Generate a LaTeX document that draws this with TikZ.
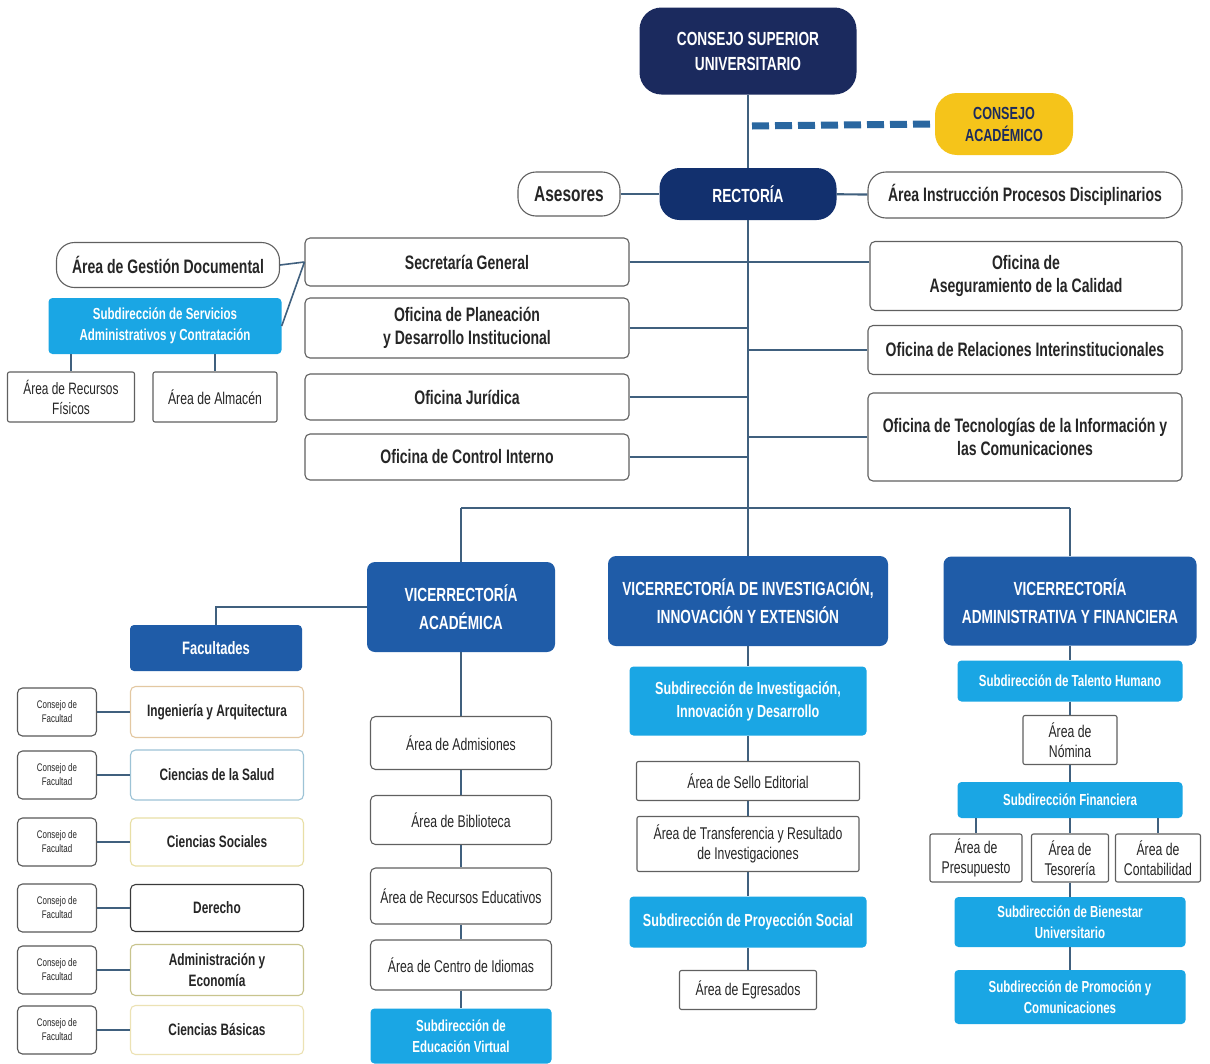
\documentclass[tikz,border=0pt]{standalone}
\usepackage{fontspec}
\setmainfont{Liberation Sans}[FakeStretch=0.72]
\definecolor{navy}{HTML}{1B2A5E}
\definecolor{rnavy}{HTML}{12306E}
\definecolor{vblue}{HTML}{1F5CA8}
\definecolor{lblue}{HTML}{1AA6E4}
\definecolor{gold}{HTML}{F5C41A}
\definecolor{ln}{HTML}{40607E}
\definecolor{dashc}{HTML}{2A67A0}
\definecolor{txt}{HTML}{262626}
\definecolor{fa}{HTML}{E3C8A2}
\definecolor{fb}{HTML}{9DC3D6}
\definecolor{fc}{HTML}{E8DFA6}
\definecolor{fd}{HTML}{3A3A3A}
\definecolor{fe}{HTML}{C8C48E}
\definecolor{ff}{HTML}{ECE2B4}
\begin{document}
\begin{tikzpicture}[x=1pt,y=-1pt,
  box/.style={draw=gray!75!black, line width=1.1pt, rounded corners=5pt, fill=white, align=center, inner sep=0pt, text=txt, font=\bfseries\fontsize{19.5}{23}\selectfont},
  area/.style={box, font=\fontsize{17}{20}\selectfont},
  pill/.style={box, rounded corners=18pt},
  navybox/.style={fill=navy, draw=none, rounded corners=22pt, text=white, inner sep=0pt, font=\bfseries\fontsize{19}{25}\selectfont, align=center},
  vbox/.style={fill=vblue, draw=none, rounded corners=8pt, text=white, inner sep=0pt, font=\bfseries\fontsize{19}{28}\selectfont, align=center},
  sub/.style={fill=lblue, draw=none, rounded corners=4pt, text=white, inner sep=0pt, font=\bfseries\fontsize{17.5}{23}\selectfont, align=center},
  subs/.style={sub, font=\bfseries\fontsize{16}{21}\selectfont},
  fbox/.style={box, draw=#1, font=\bfseries\fontsize{16.5}{21}\selectfont, minimum width=173},
  cbox/.style={box, draw=gray!70!black, font=\fontsize{11}{14}\selectfont, minimum width=79, minimum height=48},
  conn/.style={draw=ln, line width=2.2pt}]
\useasboundingbox[fill=white] (0,0) rectangle (1210,1063);

% top
\node[navybox, minimum width=217, minimum height=87] (csu) at (748,51) {CONSEJO SUPERIOR\\UNIVERSITARIO};
\node[fill=gold, rounded corners=22pt, inner sep=0pt, minimum width=138, minimum height=62, align=center, text=navy, font=\bfseries\fontsize{17.5}{22}\selectfont] (ca) at (1004,124) {CONSEJO\\ACADÉMICO};
\node[navybox, fill=rnavy, rounded corners=20pt, minimum width=177, minimum height=52] (rect) at (748,194) {RECTORÍA};
\node[pill, minimum width=102, minimum height=44, font=\bfseries\fontsize{21.5}{25}\selectfont] (ase) at (569,194) {Asesores};
\node[pill, minimum width=314, minimum height=46] (aipd) at (1025,195) {Área Instrucción Procesos Disciplinarios};

% left offices
\node[box, minimum width=324, minimum height=48] (sg) at (467,262) {Secretaría General};
\node[box, minimum width=324, minimum height=60] (opdi) at (467,328) {Oficina de Planeación\\y Desarrollo Institucional};
\node[box, minimum width=324, minimum height=46] (oj) at (467,397) {Oficina Jurídica};
\node[box, minimum width=324, minimum height=46] (oci) at (467,457) {Oficina de Control Interno};
% right offices
\node[box, minimum width=312, minimum height=69] (oac) at (1026,276) {Oficina de\\Aseguramiento de la Calidad};
\node[box, minimum width=314, minimum height=49] (ori) at (1025,350) {Oficina de Relaciones Interinstitucionales};
\node[box, minimum width=314, minimum height=88] (otic) at (1025,437) {Oficina de Tecnologías de la Información y\\las Comunicaciones};
% far left
\node[pill, minimum width=223, minimum height=45] (agd) at (168,265) {Área de Gestión Documental};
\node[subs, minimum width=233, minimum height=56] (ssac) at (165,326) {Subdirección de Servicios\\Administrativos y Contratación};
\node[area, rounded corners=2pt, minimum width=127, minimum height=50, font=\fontsize{16.5}{20}\selectfont] (arf) at (71,397) {Área de Recursos\\Físicos};
\node[area, rounded corners=2pt, minimum width=124, minimum height=50] (aal) at (215,397) {Área de Almacén};

% connectors top
\draw[conn] (csu) -- (rect);
\coordinate (busc) at (748,508);
\draw[conn] (rect) -- (busc);
\coordinate (dstart) at (752,126);
\draw[draw=dashc, line width=7pt, dash pattern=on 17pt off 6pt] (dstart) -- (ca.west);
\draw[conn] (ase) -- (rect);
\draw[conn] (rect) -- (aipd);
\draw[conn] (sg.east) -- (sg.east -| oac.west);
\draw[conn] (opdi.east) -- (opdi.east -| rect.south);
\draw[conn] (oj.east) -- (oj.east -| rect.south);
\draw[conn] (oci.east) -- (oci.east -| rect.south);
\draw[conn] (ori.west) -- (ori.west -| rect.south);
\draw[conn] (otic.west) -- (otic.west -| rect.south);
\draw[conn, line width=1.6pt] (agd.east) -- (sg.west);
\draw[conn, line width=1.6pt] (ssac.east) -- (sg.west);
\draw[conn, line width=1.6pt] (ssac.south -| arf.north) -- (arf.north);
\draw[conn, line width=1.6pt] (ssac.south -| aal.north) -- (aal.north);

% vicerrectorias
\node[vbox, minimum width=188, minimum height=90] (va) at (461,607) {VICERRECTORÍA\\ACADÉMICA};
\node[vbox, minimum width=280, minimum height=90] (viie) at (748,601) {VICERRECTORÍA DE INVESTIGACIÓN,\\INNOVACIÓN Y EXTENSIÓN};
\node[vbox, minimum width=253, minimum height=89] (vaf) at (1070,601) {VICERRECTORÍA\\ADMINISTRATIVA Y FINANCIERA};
\coordinate (busl) at (va.north |- busc);
\coordinate (busr) at (vaf.north |- busc);
\draw[conn] (busl) -- (busr);
\draw[conn] (busl) -- (va.north);
\draw[conn] (busc) -- (viie.north);
\draw[conn] (busr) -- (vaf.north);

% facultades
\node[vbox, rounded corners=4pt, minimum width=172, minimum height=46, font=\bfseries\fontsize{18}{22}\selectfont] (fac) at (216,648) {Facultades};
\draw[conn] (va.west) -| (fac.north);
\node[fbox=fa, minimum height=51] (f1) at (217,712) {Ingeniería y Arquitectura};
\node[fbox=fb, minimum height=50] (f2) at (217,775) {Ciencias de la Salud};
\node[fbox=fc, minimum height=48] (f3) at (217,842) {Ciencias Sociales};
\node[fbox=fd, minimum height=47] (f4) at (217,908) {Derecho};
\node[fbox=fe, minimum height=51] (f5) at (217,970) {Administración y\\Economía};
\node[fbox=ff, minimum height=49] (f6) at (217,1030) {Ciencias Básicas};
\foreach \i/\y in {1/712,2/775,3/842,4/908,5/970,6/1030}{
  \node[cbox] (c\i) at (57,\y) {Consejo de\\Facultad};
  \draw[conn] (c\i) -- (f\i);
}

% VA column
\node[area, minimum width=181, minimum height=53] (a1) at (461,743) {Área de Admisiones};
\node[area, minimum width=181, minimum height=49] (a2) at (461,820) {Área de Biblioteca};
\node[area, minimum width=181, minimum height=56] (a3) at (461,896) {Área de Recursos Educativos};
\node[area, minimum width=181, minimum height=50] (a4) at (461,965) {Área de Centro de Idiomas};
\node[subs, minimum width=181, minimum height=55] (a5) at (461,1036) {Subdirección de\\Educación Virtual};
\draw[conn] (va) -- (a1);
\draw[conn] (a1) -- (a2);
\draw[conn] (a2) -- (a3);
\draw[conn] (a3) -- (a4);
\draw[conn] (a4) -- (a5);

% VIIE column
\node[sub, minimum width=237, minimum height=69] (b1) at (748,701) {Subdirección de Investigación,\\Innovación y Desarrollo};
\node[area, rounded corners=2pt, minimum width=223, minimum height=39] (b2) at (748,781) {Área de Sello Editorial};
\node[area, rounded corners=2pt, minimum width=222, minimum height=55] (b3) at (748,844) {Área de Transferencia y Resultado\\de Investigaciones};
\node[sub, minimum width=237, minimum height=51] (b4) at (748,922) {Subdirección de Proyección Social};
\node[area, rounded corners=2pt, minimum width=137, minimum height=39] (b5) at (748,990) {Área de Egresados};
\draw[conn] (viie) -- (b1);
\draw[conn] (b1) -- (b2);
\draw[conn] (b2) -- (b3);
\draw[conn] (b3) -- (b4);
\draw[conn] (b4) -- (b5);

% VAF column
\node[subs, minimum width=225, minimum height=41] (d1) at (1070,681) {Subdirección de Talento Humano};
\node[area, rounded corners=2pt, minimum width=94, minimum height=49] (d2) at (1070,740) {Área de\\Nómina};
\node[subs, minimum width=225, minimum height=36] (d3) at (1070,800) {Subdirección Financiera};
\node[area, rounded corners=2pt, minimum width=92, minimum height=48] (e1) at (976,858) {Área de\\Presupuesto};
\node[area, rounded corners=2pt, minimum width=77, minimum height=48] (e2) at (1070,858) {Área de\\Tesorería};
\node[area, rounded corners=2pt, minimum width=85, minimum height=48] (e3) at (1158,858) {Área de\\Contabilidad};
\node[subs, minimum width=231, minimum height=50] (d4) at (1070,922) {Subdirección de Bienestar\\Universitario};
\node[subs, minimum width=231, minimum height=54] (d5) at (1070,997) {Subdirección de Promoción y\\Comunicaciones};
\draw[conn] (vaf) -- (d1);
\draw[conn] (d1) -- (d2);
\draw[conn] (d2) -- (d3);
\draw[conn] (d3.south -| e1.north) -- (e1.north);
\draw[conn] (d3.south -| e2.north) -- (e2.north);
\draw[conn] (d3.south -| e3.north) -- (e3.north);
\draw[conn] (e2) -- (d4);
\draw[conn] (d4) -- (d5);
\end{tikzpicture}
\end{document}
